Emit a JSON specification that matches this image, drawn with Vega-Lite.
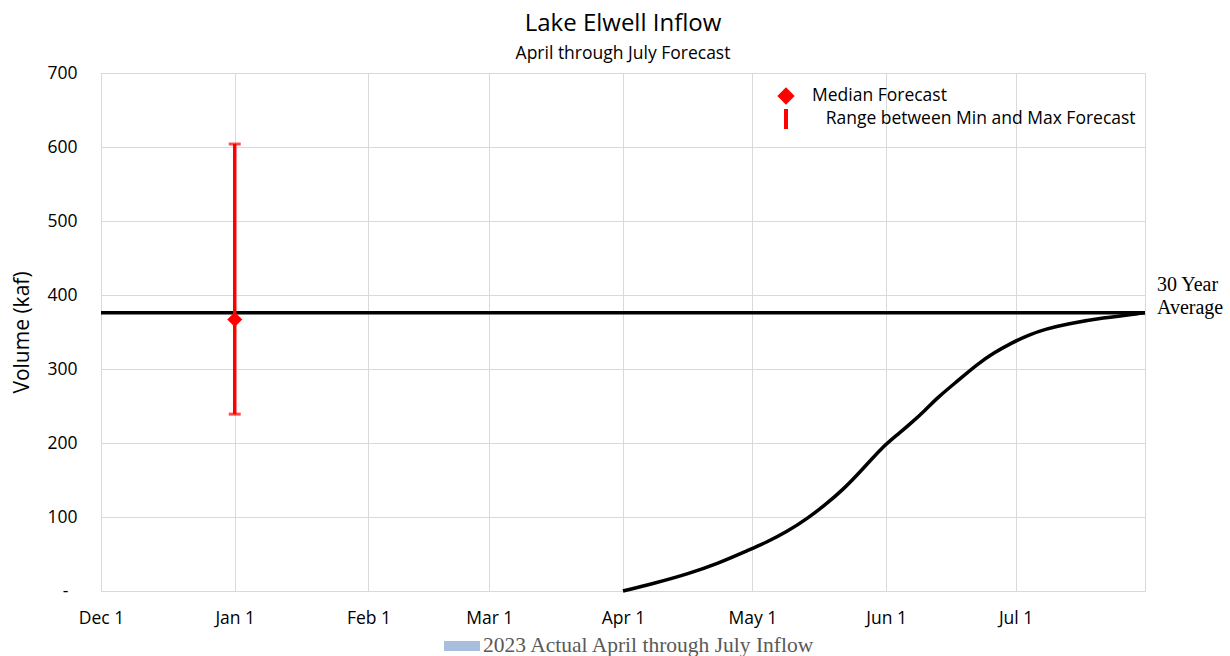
{
  "$schema": "https://vega.github.io/schema/vega-lite/v6.json",
  "autosize": {"type": "none"},
  "width": 1044,
  "height": 518,
  "padding": {"left": 101, "top": 73, "right": 85, "bottom": 65},
  "background": "white",
  "title": {
    "text": "Lake Elwell Inflow",
    "subtitle": "April through July Forecast",
    "anchor": "middle",
    "font": "Open Sans",
    "fontSize": 24,
    "fontWeight": "normal",
    "color": "#000000",
    "subtitleFont": "Open Sans",
    "subtitleFontSize": 17.5,
    "subtitleColor": "#000000",
    "subtitlePadding": 9,
    "offset": 2
  },
  "config": {
    "view": {"stroke": "#d9d9d9", "strokeWidth": 1},
    "axis": {"labelFont": "Open Sans", "titleFont": "Open Sans", "labelColor": "#000000", "titleColor": "#000000", "gridColor": "#d9d9d9", "gridWidth": 1, "domain": false, "ticks": false},
    "legend": {"labelFont": "Open Sans", "labelColor": "#000000"}
  },
  "datasets": {
    "forecast": [
      {"date": "2023/01/01", "median": 367, "min": 239, "max": 604, "series": "Median Forecast"}
    ],
    "average": [
      {"date": "2023/07/31", "avg": 376, "label": ["30 Year", "Average"]}
    ],
    "actual": [
      {"date": "2023/04/01", "volume": 0, "series": "2023 Actual April through July Inflow"},
      {"date": "2023/04/08", "volume": 10, "series": "2023 Actual April through July Inflow"},
      {"date": "2023/04/16", "volume": 23, "series": "2023 Actual April through July Inflow"},
      {"date": "2023/04/23", "volume": 37, "series": "2023 Actual April through July Inflow"},
      {"date": "2023/04/30", "volume": 55, "series": "2023 Actual April through July Inflow"},
      {"date": "2023/05/04", "volume": 65, "series": "2023 Actual April through July Inflow"},
      {"date": "2023/05/09", "volume": 80, "series": "2023 Actual April through July Inflow"},
      {"date": "2023/05/14", "volume": 99, "series": "2023 Actual April through July Inflow"},
      {"date": "2023/05/18", "volume": 117, "series": "2023 Actual April through July Inflow"},
      {"date": "2023/05/22", "volume": 137, "series": "2023 Actual April through July Inflow"},
      {"date": "2023/05/26", "volume": 161, "series": "2023 Actual April through July Inflow"},
      {"date": "2023/05/31", "volume": 194, "series": "2023 Actual April through July Inflow"},
      {"date": "2023/06/04", "volume": 213, "series": "2023 Actual April through July Inflow"},
      {"date": "2023/06/07", "volume": 228, "series": "2023 Actual April through July Inflow"},
      {"date": "2023/06/10", "volume": 244, "series": "2023 Actual April through July Inflow"},
      {"date": "2023/06/13", "volume": 262, "series": "2023 Actual April through July Inflow"},
      {"date": "2023/06/18", "volume": 286, "series": "2023 Actual April through July Inflow"},
      {"date": "2023/06/22", "volume": 306, "series": "2023 Actual April through July Inflow"},
      {"date": "2023/06/26", "volume": 322, "series": "2023 Actual April through July Inflow"},
      {"date": "2023/06/30", "volume": 335, "series": "2023 Actual April through July Inflow"},
      {"date": "2023/07/04", "volume": 346, "series": "2023 Actual April through July Inflow"},
      {"date": "2023/07/08", "volume": 354, "series": "2023 Actual April through July Inflow"},
      {"date": "2023/07/13", "volume": 361, "series": "2023 Actual April through July Inflow"},
      {"date": "2023/07/21", "volume": 369, "series": "2023 Actual April through July Inflow"},
      {"date": "2023/07/31", "volume": 376, "series": "2023 Actual April through July Inflow"}
    ]
  },
  "encoding": {
    "x": {
      "field": "date",
      "type": "temporal",
      "scale": {"domain": [{"year": 2022, "month": 12, "date": 1}, {"year": 2023, "month": 7, "date": 31}]},
      "axis": {"title": null, "format": "%b %-d", "tickCount": {"interval": "month", "step": 1}, "labelFontSize": 17.5, "labelPadding": 18, "grid": true, "labelFlush": false}
    }
  },
  "layer": [
    {
      "data": {"name": "actual"},
      "mark": {"type": "line", "strokeWidth": 3.5, "interpolate": "basis"},
      "encoding": {
        "y": {
          "field": "volume",
          "type": "quantitative",
          "scale": {"domain": [0, 700], "nice": false},
          "axis": {
            "title": "Volume (kaf)",
            "titleFontSize": 21,
            "titleFontWeight": "normal",
            "titlePadding": 14,
            "values": [0, 100, 200, 300, 400, 500, 600, 700],
            "labelExpr": "datum.value == 0 ? '-' : datum.label",
            "labelFontSize": 17.5,
            "labelPadding": {"condition": {"test": "datum.value == 0", "value": 33}, "value": 24},
            "grid": true
          }
        },
        "color": {
          "field": "series",
          "type": "nominal",
          "scale": {"range": ["#000000"]},
          "legend": {
            "title": null,
            "orient": "none",
            "legendX": 343,
            "legendY": 555,
            "padding": 0,
            "symbolType": "M-1,-0.28H1V0.28H-1Z",
            "symbolSize": 1296,
            "symbolStrokeWidth": 0,
            "labelOffset": 3,
            "labelFont": "Liberation Serif",
            "labelFontSize": 21.5,
            "labelColor": "#595959",
            "labelLimit": 500,
            "encode": {"symbols": {"update": {"fill": {"value": "#a7bedd"}, "stroke": {"value": "transparent"}, "opacity": {"value": 1}}}}
          }
        }
      }
    },
    {
      "data": {"name": "average"},
      "mark": {"type": "rule", "strokeWidth": 3.5, "color": "#000000"},
      "encoding": {"x": null, "y": {"field": "avg", "type": "quantitative"}}
    },
    {
      "data": {"name": "average"},
      "mark": {"type": "text", "align": "left", "baseline": "bottom", "dx": 12, "dy": -18, "font": "Liberation Serif", "fontSize": 20, "lineHeight": 23, "color": "#000000"},
      "encoding": {"y": {"field": "avg", "type": "quantitative"}, "text": {"field": "label"}}
    },
    {
      "data": {"name": "forecast"},
      "mark": {"type": "rule", "strokeWidth": 3.5, "color": "#ff0000"},
      "encoding": {"y": {"field": "min", "type": "quantitative"}, "y2": {"field": "max"}}
    },
    {
      "data": {"name": "forecast"},
      "mark": {"type": "tick", "orient": "horizontal", "size": 12, "thickness": 3, "color": "#ff0000"},
      "encoding": {"y": {"field": "min", "type": "quantitative"}}
    },
    {
      "data": {"name": "forecast"},
      "mark": {"type": "tick", "orient": "horizontal", "size": 12, "thickness": 3, "color": "#ff0000"},
      "encoding": {"y": {"field": "max", "type": "quantitative"}}
    },
    {
      "data": {"name": "forecast"},
      "mark": {"type": "point", "filled": true, "size": 225, "color": "#ff0000", "opacity": 1},
      "encoding": {
        "y": {"field": "median", "type": "quantitative"},
        "shape": {
          "field": "series",
          "type": "nominal",
          "scale": {"domain": ["Median Forecast", "Range between Min and Max Forecast"], "range": ["diamond", "M-0.23,-1.155H0.23V1.155H-0.23Z"]},
          "legend": {
            "title": null,
            "orient": "none",
            "legendX": 676,
            "legendY": 14,
            "padding": 0,
            "symbolSize": 300,
            "symbolFillColor": "#ff0000",
            "symbolStrokeWidth": 0,
            "symbolOpacity": 1,
            "labelOffset": 17,
            "labelFontSize": 17.5,
            "labelLimit": 500,
            "rowPadding": 3,
            "labelExpr": "datum.label == 'Range between Min and Max Forecast' ? '\u200b\u00a0\u00a0\u00a0' + datum.label : datum.label"
          }
        }
      }
    }
  ]
}
